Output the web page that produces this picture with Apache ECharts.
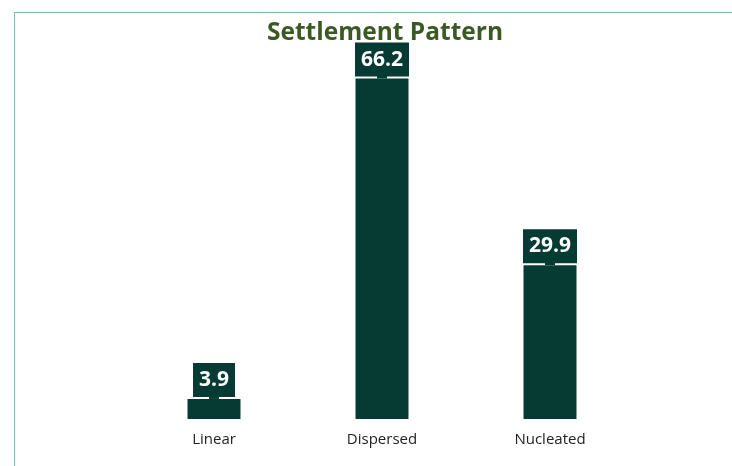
<!DOCTYPE html>
<html>
<head>
<meta charset="utf-8">
<script src="https://cdn.jsdelivr.net/npm/echarts@6/dist/echarts.min.js"></script>
<style>
  html, body { margin: 0; padding: 0; background: #fff; }
  #chart { width: 732px; height: 466px; }
</style>
</head>
<body>
<div id="chart"></div>
<script>
  // settlement pattern shares (%)
  var categories = ['Linear', 'Dispersed', 'Nucleated'];
  var shares = [3.9, 66.2, 29.9];

  var barColor = '#063b33';

  var option = {
    animation: false,
    backgroundColor: '#fff',
    title: {
      text: 'Settlement Pattern',
      left: 262,
      top: 16,
      textStyle: {
        fontFamily: 'Open Sans',
        fontWeight: 'bold',
        fontSize: 24.5,
        color: '#3b5a23'
      }
    },
    graphic: [{
      type: 'rect',
      shape: { x: 14.5, y: 12.5, width: 800, height: 500 },
      style: { fill: 'none', stroke: '#86b6a8', lineWidth: 1 },
      silent: true,
      z: -10
    }],
    grid: { left: 130, right: 98, top: 59, bottom: 47 },
    xAxis: {
      type: 'category',
      data: categories,
      axisLine: { show: false },
      axisTick: { show: false },
      axisLabel: {
        margin: 13,
        fontFamily: 'Open Sans',
        fontSize: 15,
        color: '#222'
      }
    },
    yAxis: {
      type: 'value',
      min: 0,
      max: 70,
      show: false,
      splitLine: { show: false }
    },
    series: [{
      type: 'bar',
      data: shares,
      barWidth: 53,
      itemStyle: { color: barColor },
      label: {
        show: true,
        position: 'top',
        distance: 2,
        formatter: function (p) { return p.value.toFixed(1); },
        backgroundColor: barColor,
        color: '#fff',
        fontFamily: 'Open Sans',
        fontWeight: 'bold',
        fontSize: 21,
        lineHeight: 22,
        padding: [6, 6, 6, 6]
      }
    }, {
      // small pointer notch joining each callout to its bar
      type: 'custom',
      data: shares.map(function (v, i) { return [i, v]; }),
      renderItem: function (params, api) {
        var p = api.coord([api.value(0), api.value(1)]);
        return {
          type: 'rect',
          shape: { x: p[0] - 5, y: p[1] - 3, width: 10, height: 3 },
          style: { fill: barColor }
        };
      },
      silent: true,
      z: 3
    }]
  };

  var chart = echarts.init(document.getElementById('chart'));
  chart.setOption(option);
</script>
</body>
</html>
